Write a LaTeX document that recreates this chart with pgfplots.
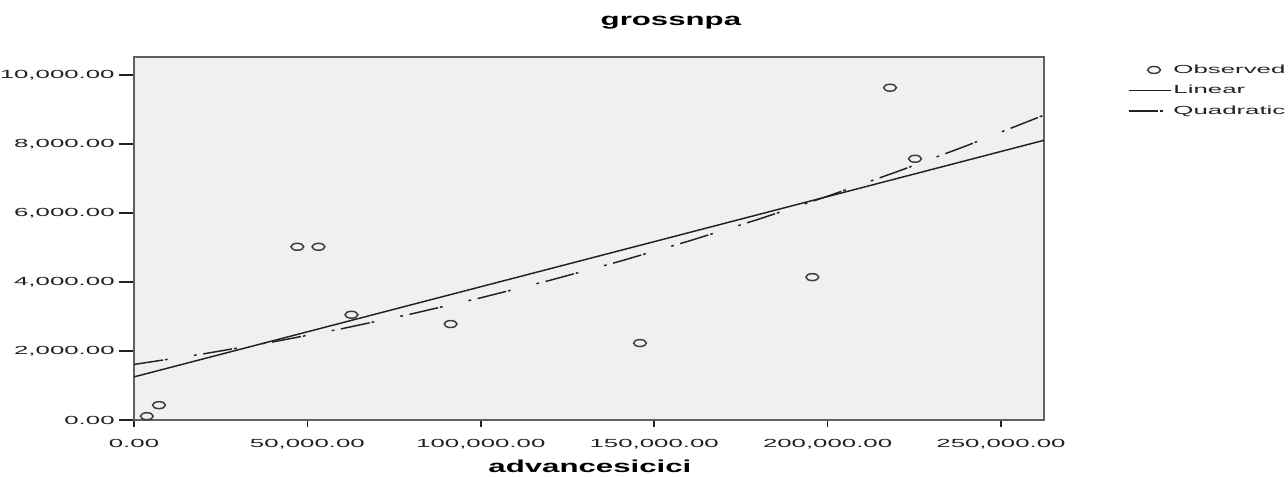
\documentclass[border=0pt]{standalone}
\usepackage{fontspec}
\setmainfont{Liberation Sans}
\usepackage{graphicx}
\usepackage{pgfplots}
\pgfplotsset{compat=1.18}
\definecolor{plotbg}{RGB}{240,240,240}
\definecolor{framegray}{RGB}{96,96,96}
\definecolor{ink}{RGB}{34,34,34}
\definecolor{markgray}{RGB}{60,60,60}
% the output font is set wide
\newcommand\wide[1]{\scalebox{2.2}[1]{#1}}
\newcommand\widehead[1]{\scalebox{1.8}[1]{#1}}

\pgfplotsset{
  fit line image/.style={legend image code/.code={\draw[##1] (0pt,0pt) -- (31.5pt,0pt);}},
  obs mark image/.style={legend image code/.code={\draw[##1, mark repeat=2, mark phase=2]
    plot coordinates {(0pt,0pt) (19pt,0pt) (31.5pt,0pt)};}},
}

% observed values
\pgfplotstableread{
x y
3700 110
7200 430
47100 5020
53200 5020
62700 3050
91300 2780
145900 2230
195600 4140
218000 9630
225200 7570
}\observed

\begin{document}
\begin{tikzpicture}
\useasboundingbox (0,0) rectangle (966pt,357.75pt);
\begin{axis}[
  at={(100.5pt,42.75pt)}, anchor=south west,
  scale only axis, width=682.5pt, height=272.25pt,
  xmin=0, xmax=262400, ymin=0, ymax=10520,
  axis background/.style={fill=plotbg},
  axis line style={draw=framegray, line width=1.6pt},
  tick align=outside, tick pos=left,
  xtick={0,50000,...,250000}, ytick={0,2000,...,10000},
  scaled ticks=false,
  major tick length=11pt,
  x tick style={/pgfplots/major tick length=5.25pt},
  tick style={draw=ink, line width=1.1pt},
  xticklabel={\wide{\pgfmathprintnumber{\tick}}},
  yticklabel={\wide{\pgfmathprintnumber{\tick}}},
  ticklabel style={font=\fontsize{8.8}{10}\selectfont, text=ink},
  /pgf/number format/fixed, /pgf/number format/fixed zerofill,
  /pgf/number format/precision=2, /pgf/number format/1000 sep={,},
  /pgf/number format/assume math mode=true,
  title={\widehead{\bfseries grossnpa}},
  title style={at={(axis description cs:0.59,1.072)}, anchor=center,
    yshift=0pt, font=\fontsize{13}{15}\selectfont, text=black},
  xlabel={\widehead{\bfseries advancesicici}},
  xlabel style={at={(axis description cs:0.501,-0.128)}, anchor=center,
    font=\fontsize{13}{15}\selectfont, text=black},
  legend style={at={(axis description cs:1.092,0.985)}, anchor=north west,
    draw=none, fill=none, inner sep=0pt, row sep=4.5pt,
    font=\fontsize{8.8}{10}\selectfont, text=ink,
    nodes={inner sep=1.5pt, anchor=west}},
  legend cell align=left,
]
\addplot[only marks, mark=o, mark size=2.6pt, draw=markgray, obs mark image,
  mark options={xscale=1.85, line width=1.1pt, draw=markgray}]
  table {\observed};
\addlegendentry{\wide{Observed}}

% least-squares line
\addplot[ink, line width=1.1pt, fit line image] coordinates {(0,1249) (262400,8106)};
\addlegendentry{\wide{Linear}}

% least-squares quadratic
\addplot[ink, line width=1.1pt, fit line image,
  dash pattern=on 22pt off 1.5pt on 2pt off 20pt on 2pt off 5pt]
  coordinates {
  (0,1610) (20000,1916) (40000,2261) (60000,2647) (80000,3074)
  (100000,3541) (120000,4049) (140000,4597) (160000,5186)
  (180000,5815) (200000,6485) (220000,7195) (240000,7946)
  (262400,8835)};
\addlegendentry{\wide{Quadratic}}
\end{axis}
\end{tikzpicture}
\end{document}
